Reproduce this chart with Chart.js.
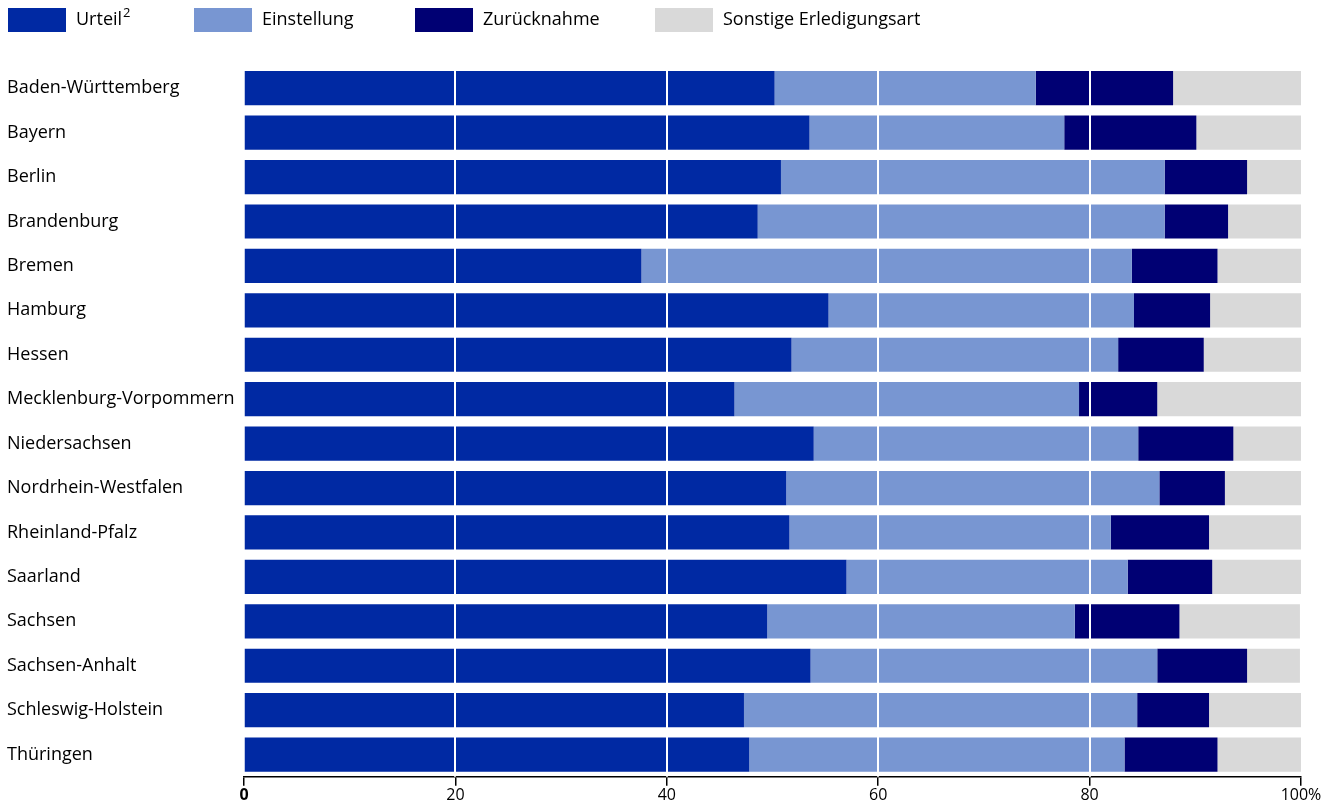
<!DOCTYPE html>
<html lang="de">
<head>
<meta charset="utf-8">
<script src="https://cdn.jsdelivr.net/npm/chart.js@4.4.1/dist/chart.umd.min.js"></script>
<style>
  html, body { margin: 0; padding: 0; background: #fff; }
  #wrap { width: 1344px; height: 805px; }
</style>
</head>
<body>
<div id="wrap"><canvas id="chart"></canvas></div>
<script>
// Bundesländer
const laender = [
    'Baden-Württemberg', 'Bayern', 'Berlin', 'Brandenburg', 'Bremen', 'Hamburg',
    'Hessen', 'Mecklenburg-Vorpommern', 'Niedersachsen', 'Nordrhein-Westfalen',
    'Rheinland-Pfalz', 'Saarland', 'Sachsen', 'Sachsen-Anhalt',
    'Schleswig-Holstein', 'Thüringen'
];
// Anteile in %
const urteil       = [50.2, 53.5, 50.8, 48.6, 37.6, 55.3, 51.8, 46.4, 53.9, 51.3, 51.6, 57.0, 49.5, 53.6, 47.3, 47.8];
const einstellung  = [24.7, 24.1, 36.3, 38.5, 46.4, 28.9, 30.9, 32.6, 30.7, 35.3, 30.4, 26.6, 29.1, 32.8, 37.2, 35.5];
const zuruecknahme = [13.0, 12.5,  7.8,  6.0,  8.1,  7.2,  8.1,  7.4,  9.0,  6.2,  9.3,  8.0,  9.9,  8.5,  6.8,  8.8];
const sonstige     = [12.1,  9.9,  5.1,  6.9,  7.9,  8.6,  9.2, 13.6,  6.4,  7.2,  8.8,  8.4, 11.4,  5.0,  8.7,  7.9];
// x-Achse
const xTicks = [0, 20, 40, 60, 80, 100];
// Legende: Texte (mit Fußnote) und linke Kante der Kästchen
const legendNames = ['Urteil', 'Einstellung', 'Zurücknahme', 'Sonstige Erledigungsart'];
const legendNotes = ['2', '', '', ''];
const legendX = [8, 194, 415, 655];

const fontFamily = '"Open Sans", "DejaVu Sans", sans-serif';

// weiße Gitterlinien über den Balken zeichnen
const whiteGrid = {
    id: 'whiteGrid',
    afterDatasetsDraw(chart) {
        const ctx = chart.ctx;
        const x = chart.scales.x;
        const area = chart.chartArea;
        ctx.save();
        ctx.strokeStyle = '#ffffff';
        ctx.lineWidth = 2;
        xTicks.slice(1, -1).forEach(function(v) {
            const px = Math.round(x.getPixelForValue(v));
            ctx.beginPath();
            ctx.moveTo(px, area.top);
            ctx.lineTo(px, area.bottom);
            ctx.stroke();
        });
        ctx.restore();
    }
};

// Legende oben links selbst zeichnen
const topLegend = {
    id: 'topLegend',
    afterDraw(chart) {
        const ctx = chart.ctx;
        ctx.save();
        ctx.textBaseline = 'middle';
        ctx.textAlign = 'left';
        chart.data.datasets.forEach(function(ds, i) {
            const bx = legendX[i];
            ctx.fillStyle = ds.backgroundColor;
            ctx.fillRect(bx, 8, 58, 24);
            ctx.fillStyle = '#000';
            ctx.font = '18px ' + fontFamily;
            ctx.fillText(legendNames[i], bx + 68, 20);
            if (legendNotes[i]) {
                const w = ctx.measureText(legendNames[i]).width;
                ctx.font = '13px ' + fontFamily;
                ctx.fillText(legendNotes[i], bx + 69 + w, 13);
            }
        });
        ctx.restore();
    }
};

function dataset(label, data, color) {
    return {
        label: label,
        data: data,
        backgroundColor: color,
        borderWidth: 0,
        barPercentage: 0.77,
        categoryPercentage: 1.0
    };
}

const ctx = document.getElementById('chart').getContext('2d');
new Chart(ctx, {
    type: 'bar',
    data: {
        labels: laender,
        datasets: [
            dataset('Urteil²', urteil, '#0029a3'),
            dataset('Einstellung', einstellung, '#7896d2'),
            dataset('Zurücknahme', zuruecknahme, '#000073'),
            dataset('Sonstige Erledigungsart', sonstige, '#d9d9d9')
        ]
    },
    options: {
        indexAxis: 'y',
        responsive: true,
        maintainAspectRatio: false,
        animation: false,
        layout: { padding: { left: 7, right: 43, top: 66, bottom: 0 } },
        scales: {
            x: {
                stacked: true,
                min: 0,
                max: 100,
                afterBuildTicks: function(scale) {
                    scale.ticks = xTicks.map(function(v) { return { value: v }; });
                },
                border: { display: true, color: '#000', width: 1.5 },
                grid: {
                    drawOnChartArea: false,
                    drawTicks: true,
                    tickLength: 9,
                    color: '#000',
                    lineWidth: 1.5
                },
                ticks: {
                    color: '#000',
                    font: function(c) {
                        return {
                            family: fontFamily,
                            size: 16,
                            weight: (c.tick && c.tick.value === 0) ? 'bold' : 'normal'
                        };
                    },
                    padding: 0,
                    maxRotation: 0,
                    callback: function(v) { return v === 100 ? '100%' : v; }
                }
            },
            y: {
                stacked: true,
                border: { display: false },
                grid: { display: false, drawTicks: false },
                afterFit: function(scale) { scale.width = 237; },
                ticks: {
                    color: '#000',
                    crossAlign: 'far',
                    padding: 2,
                    font: { family: fontFamily, size: 18 }
                }
            }
        },
        plugins: {
            legend: { display: false },
            tooltip: { enabled: false }
        }
    },
    plugins: [whiteGrid, topLegend]
});
</script>
</body>
</html>
